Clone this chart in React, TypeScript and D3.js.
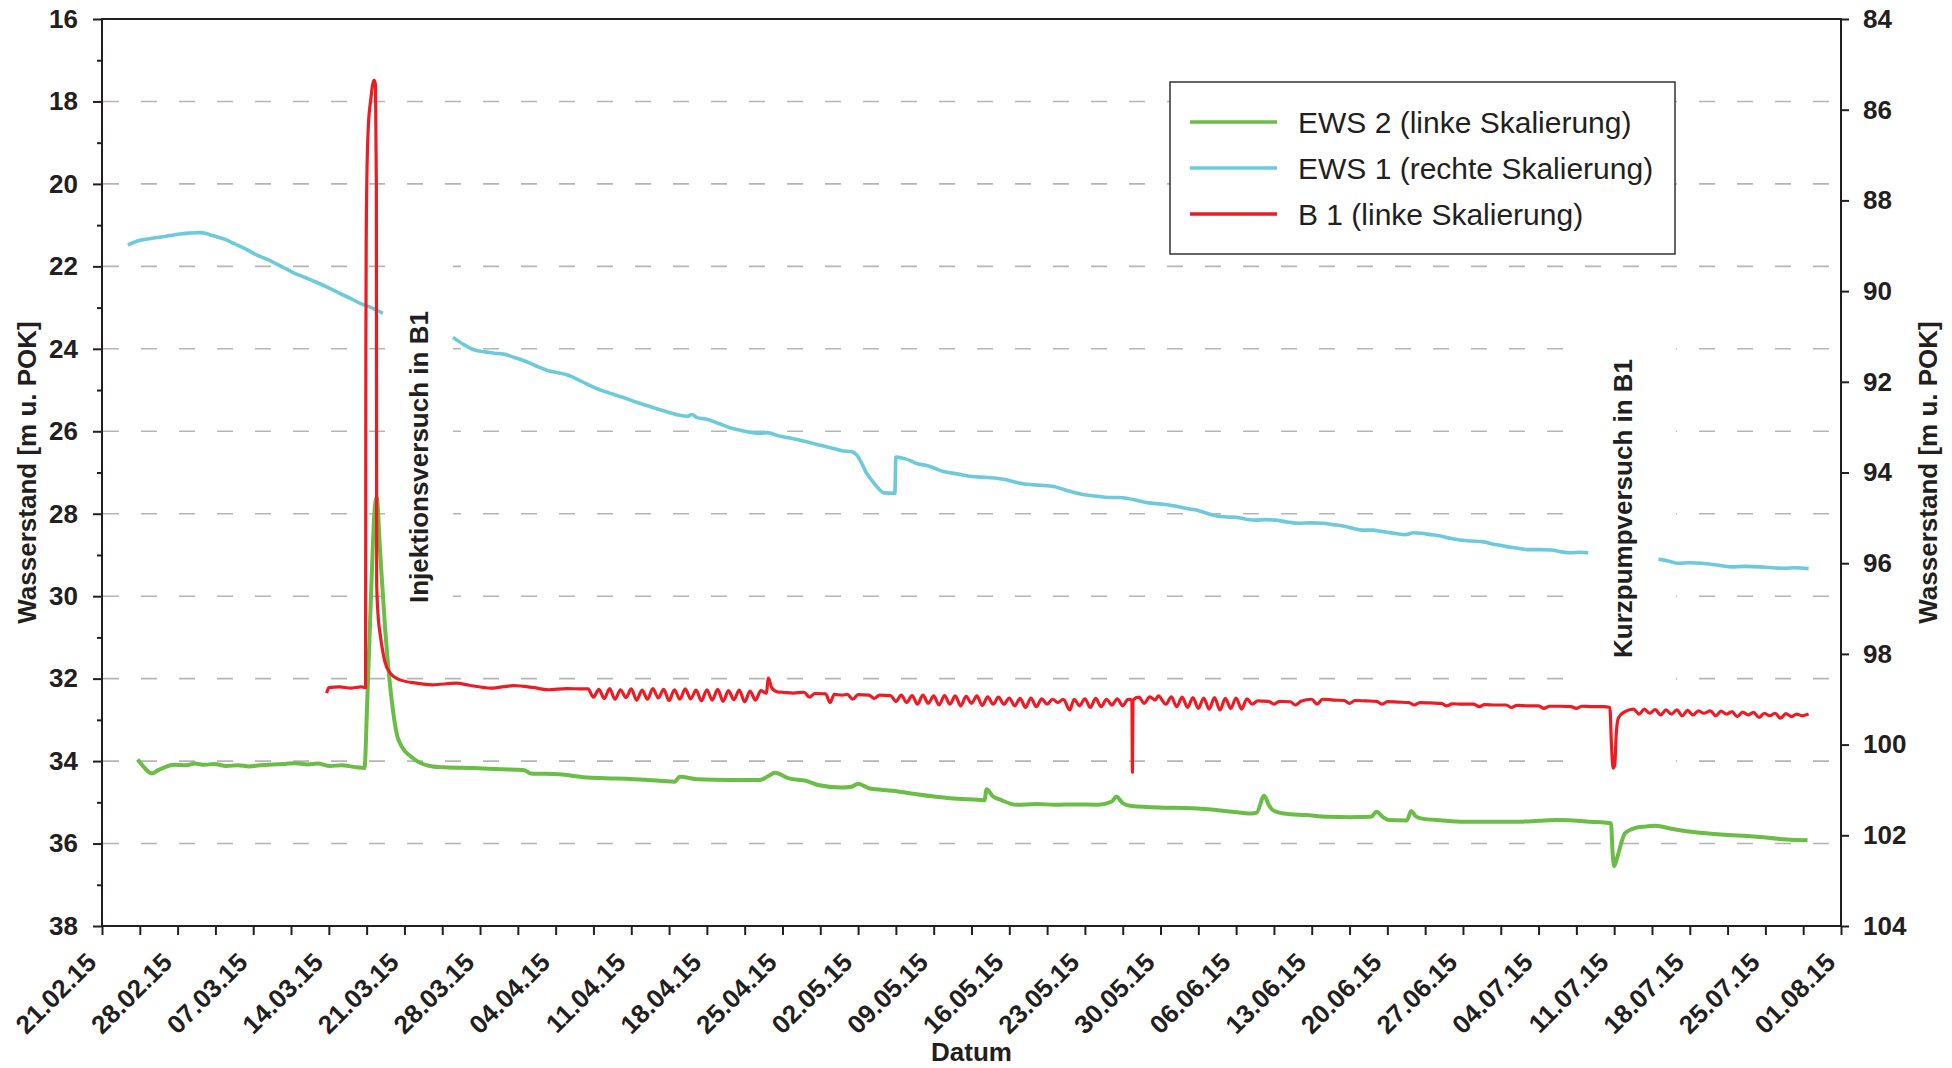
import React, { useRef, useEffect } from 'react';
import * as d3 from 'd3';

// [Tage seit 21.02.15, Wasserstand]
type Pt = [number, number];

const xTickLabels = [
  '21.02.15', '28.02.15', '07.03.15', '14.03.15', '21.03.15', '28.03.15', '04.04.15', '11.04.15',
  '18.04.15', '25.04.15', '02.05.15', '09.05.15', '16.05.15', '23.05.15', '30.05.15', '06.06.15',
  '13.06.15', '20.06.15', '27.06.15', '04.07.15', '11.07.15', '18.07.15', '25.07.15', '01.08.15',
];
const leftTicks = [16, 18, 20, 22, 24, 26, 28, 30, 32, 34, 36, 38];
const leftMinorTicks = [17, 19, 21, 23, 25, 27, 29, 31, 33, 35, 37];
const rightTicks = [84, 86, 88, 90, 92, 94, 96, 98, 100, 102, 104];

const seriesNames = ['EWS 2 (linke Skalierung)', 'EWS 1 (rechte Skalierung)', 'B 1 (linke Skalierung)'];
const seriesColors = ['#6abd45', '#6dcadb', '#ed1c24'];

const annotationTexts = ['Injektionsversuch in B1', 'Kurzpumpversuch in B1'];

// EWS 2 (linke Skala)
const ews2Data: Pt[] = [
  [3.3, 33.96], [3.8, 34.12], [4.6, 34.30], [5.2, 34.22], [5.8, 34.15], [6.7, 34.09], [7.8, 34.10],
  [8.6, 34.06], [9.5, 34.09], [10.4, 34.07], [11.5, 34.12], [12.6, 34.10], [13.6, 34.13], [14.6, 34.10],
  [15.8, 34.08], [16.9, 34.07], [17.9, 34.05], [19.0, 34.08], [20.0, 34.06], [21.1, 34.12], [22.2, 34.10],
  [23.3, 34.14], [24.3, 34.17], [24.56, 32.52], [25.06, 28.88], [25.2, 28.07], [25.43, 27.6], [25.74, 28.88],
  [26.2, 30.74], [26.82, 32.52], [27.45, 33.49], [28.8, 33.93], [30.6, 34.13], [31.7, 34.15], [34.4, 34.17],
  [37.0, 34.20], [39.1, 34.22], [39.7, 34.30], [42.3, 34.32], [45.0, 34.40], [47.6, 34.42], [50.3, 34.45],
  [53.0, 34.50], [53.5, 34.38], [55.1, 34.44], [58.3, 34.46], [60.9, 34.46], [61.7, 34.36], [62.3, 34.28],
  [63.6, 34.42], [65.2, 34.48], [66.3, 34.58], [68.4, 34.64], [69.4, 34.62], [70.0, 34.55], [71.0, 34.66],
  [73.2, 34.72], [75.3, 34.80], [78.5, 34.90], [81.1, 34.94], [81.7, 34.95], [81.9, 34.68], [82.5, 34.86],
  [83.1, 34.93], [84.7, 35.06], [86.5, 35.04], [88.2, 35.06], [90.2, 35.05], [92.2, 35.06], [93.5, 34.98],
  [93.9, 34.86], [94.5, 35.02], [95.3, 35.09], [98.3, 35.13], [100.3, 35.14], [102.4, 35.17], [104.4, 35.22],
  [106.4, 35.27], [106.9, 35.25], [107.6, 34.84], [108.0, 35.05], [108.4, 35.19], [109.4, 35.27], [111.5, 35.31],
  [113.5, 35.35], [115.5, 35.36], [117.5, 35.35], [118.0, 35.23], [118.6, 35.36], [119.1, 35.43], [120.8, 35.44],
  [121.2, 35.21], [121.6, 35.33], [122.1, 35.39], [124.1, 35.44], [126.1, 35.47], [128.6, 35.47], [131.2, 35.47],
  [133.0, 35.45], [134.7, 35.43], [137.8, 35.47], [139.7, 35.51], [139.85, 36.2], [140.0, 36.55], [140.3, 36.32],
  [141.0, 35.75], [142.0, 35.62], [142.8, 35.59], [143.8, 35.57], [145.3, 35.64], [146.9, 35.71], [149.9, 35.78],
  [152.9, 35.83], [156.0, 35.90], [157.9, 35.92],
];

// EWS 1 (rechte Skala), drei Abschnitte mit Lücken
const ews1Part1: Pt[] = [
  [2.4, 88.98], [3.5, 88.88], [4.5, 88.84], [5.7, 88.80], [6.5, 88.77], [7.2, 88.74], [8.2, 88.72],
  [9.1, 88.71], [9.9, 88.75], [10.6, 88.80], [11.4, 88.86], [12.2, 88.95], [13.2, 89.06], [14.3, 89.20],
  [15.1, 89.28], [15.9, 89.37], [16.8, 89.48], [17.7, 89.59], [18.8, 89.70], [19.9, 89.81], [21.0, 89.93],
  [22.0, 90.05], [23.0, 90.16], [23.9, 90.27], [25.0, 90.37], [26.0, 90.49],
];
const ews1Part2: Pt[] = [
  [32.5, 91.02], [33.5, 91.18], [34.5, 91.30], [35.5, 91.34], [36.3, 91.37], [37.2, 91.39], [38.0, 91.45],
  [38.9, 91.52], [40.1, 91.64], [41.4, 91.76], [42.2, 91.80], [43.1, 91.85], [44.4, 91.99], [45.7, 92.14],
  [47.0, 92.25], [48.2, 92.34], [49.5, 92.45], [50.8, 92.55], [52.0, 92.64], [53.3, 92.73], [54.2, 92.76],
  [54.6, 92.72], [55.1, 92.79], [55.9, 92.82], [57.1, 92.92], [58.4, 93.03], [59.3, 93.08], [60.1, 93.12],
  [61.0, 93.14], [61.6, 93.12], [62.6, 93.19], [63.9, 93.25], [65.2, 93.32], [66.5, 93.40], [67.7, 93.47],
  [68.5, 93.52], [69.4, 93.54], [69.9, 93.62], [70.3, 93.78], [70.7, 93.98], [71.2, 94.15], [71.8, 94.33],
  [72.4, 94.45], [73.4, 94.46], [73.5, 93.66], [74.4, 93.70], [75.4, 93.80], [76.6, 93.86], [77.9, 93.98],
  [79.2, 94.03], [80.5, 94.09], [82.0, 94.11], [83.5, 94.15], [84.5, 94.21], [85.6, 94.26], [86.9, 94.28],
  [88.1, 94.31], [89.4, 94.40], [90.7, 94.48], [92.0, 94.52], [93.2, 94.55], [94.2, 94.55], [96.9, 94.67],
  [98.2, 94.70], [99.6, 94.75], [100.5, 94.80], [101.4, 94.83], [102.3, 94.90], [103.2, 94.96], [104.1, 94.98],
  [105.0, 94.99], [105.9, 95.03], [106.8, 95.05], [107.7, 95.04], [108.6, 95.05], [109.7, 95.09], [110.8, 95.12],
  [112.0, 95.11], [113.1, 95.12], [114.0, 95.15], [114.9, 95.18], [115.8, 95.23], [116.7, 95.27], [117.6, 95.27],
  [118.5, 95.30], [119.6, 95.34], [120.7, 95.37], [121.4, 95.33], [122.1, 95.34], [123.0, 95.37], [123.9, 95.40],
  [124.8, 95.45], [125.7, 95.49], [126.8, 95.51], [127.9, 95.53], [129.0, 95.59], [130.2, 95.64], [131.1, 95.67],
  [132.0, 95.70], [133.1, 95.70], [134.2, 95.71], [135.1, 95.75], [136.0, 95.77], [136.8, 95.76], [137.6, 95.77],
];
const ews1Part3: Pt[] = [
  [144.1, 95.91], [145.0, 95.95], [145.9, 96.00], [147.0, 95.99], [148.1, 96.00], [149.5, 96.04], [150.8, 96.08],
  [152.1, 96.07], [153.5, 96.08], [154.6, 96.10], [155.8, 96.11], [156.7, 96.10], [158.0, 96.12],
];

// B 1 (linke Skala)
const b1Data: Pt[] = [
  [20.8, 32.35], [21.0, 32.22], [22.0, 32.20], [23.0, 32.23], [24.0, 32.20], [24.4, 32.22],
  [24.43, 24.0], [24.46, 21.5], [24.52, 19.9], [24.66, 18.6], [24.88, 17.96], [25.05, 17.6], [25.19, 17.48],
  [25.32, 17.6], [25.40, 20.0], [25.43, 29.7], [25.6, 30.6], [25.74, 30.9], [26.0, 31.35], [26.2, 31.6],
  [26.67, 31.86], [27.0, 31.95], [27.6, 32.03], [29.1, 32.11], [30.6, 32.15], [32.8, 32.11], [34.0, 32.16],
  [36.0, 32.23], [38.1, 32.17], [40.0, 32.22], [41.3, 32.27], [43.0, 32.24], [44.5, 32.25],
  [45.0, 32.25], [45.5, 32.45], [46.0, 32.26], [46.5, 32.48], [47.0, 32.24], [47.5, 32.50], [48.0, 32.27],
  [48.5, 32.46], [49.0, 32.25], [49.5, 32.52], [50.0, 32.28], [50.5, 32.50], [51.0, 32.24], [51.5, 32.47],
  [52.0, 32.26], [52.5, 32.53], [53.0, 32.27], [53.5, 32.50], [54.0, 32.25], [54.5, 32.49], [55.0, 32.28],
  [55.5, 32.54], [56.0, 32.27], [56.5, 32.52], [57.0, 32.26], [57.5, 32.55], [58.0, 32.29], [58.5, 32.51],
  [59.0, 32.28], [59.5, 32.56], [60.0, 32.30], [60.5, 32.52], [61.0, 32.29], [61.5, 32.35], [61.7, 31.99],
  [62.0, 32.22], [62.5, 32.32], [63.0, 32.33], [64.0, 32.35], [65.0, 32.33], [65.5, 32.45], [66.0, 32.36],
  [67.0, 32.37], [67.4, 32.58], [67.8, 32.38], [68.5, 32.40], [69.0, 32.38], [69.5, 32.50], [70.0, 32.39],
  [71.0, 32.40], [71.5, 32.48], [72.0, 32.40], [73.0, 32.41], [73.5, 32.55], [74.0, 32.40], [74.5, 32.58],
  [75.0, 32.41], [75.5, 32.62], [76.0, 32.40], [76.5, 32.60], [77.0, 32.42], [77.5, 32.64], [78.0, 32.41],
  [78.5, 32.62], [79.0, 32.42], [79.5, 32.66], [80.0, 32.43], [80.5, 32.60], [81.0, 32.42], [81.5, 32.65],
  [82.0, 32.44], [82.5, 32.62], [83.0, 32.45], [83.5, 32.62], [84.0, 32.47], [84.5, 32.66], [85.0, 32.48],
  [85.5, 32.70], [86.0, 32.47], [86.5, 32.68], [87.0, 32.49], [87.5, 32.62], [88.0, 32.50], [88.5, 32.58],
  [89.0, 32.50], [89.6, 32.76], [90.0, 32.50], [90.5, 32.66], [91.0, 32.49], [91.5, 32.70], [92.0, 32.48],
  [92.5, 32.68], [93.0, 32.50], [93.5, 32.64], [94.0, 32.49], [94.5, 32.66], [95.0, 32.50], [95.35, 32.52],
  [95.4, 34.27], [95.45, 32.52], [96.0, 32.45], [96.5, 32.60], [97.0, 32.44], [97.5, 32.52], [97.8, 32.42],
  [98.5, 32.62], [99.0, 32.44], [99.5, 32.68], [100.0, 32.45], [100.5, 32.70], [101.0, 32.46], [101.5, 32.72],
  [102.0, 32.47], [102.5, 32.74], [103.0, 32.46], [103.5, 32.76], [104.0, 32.48], [104.5, 32.72], [105.0, 32.47],
  [105.5, 32.74], [106.0, 32.49], [106.5, 32.62], [107.0, 32.54], [108.0, 32.55], [108.5, 32.62], [109.0, 32.55],
  [110.0, 32.56], [110.5, 32.64], [111.0, 32.55], [112.0, 32.50], [112.5, 32.62], [113.0, 32.50], [114.0, 32.52],
  [115.0, 32.53], [115.5, 32.60], [116.0, 32.53], [117.0, 32.54], [118.0, 32.55], [118.5, 32.62], [119.0, 32.56],
  [120.0, 32.57], [121.0, 32.58], [121.5, 32.64], [122.0, 32.58], [123.0, 32.59], [124.0, 32.60], [124.5, 32.66],
  [125.0, 32.61], [126.0, 32.62], [127.0, 32.62], [127.5, 32.68], [128.0, 32.63], [129.0, 32.64], [130.0, 32.64],
  [130.5, 32.70], [131.0, 32.65], [132.0, 32.66], [133.0, 32.66], [133.5, 32.72], [134.0, 32.67], [135.0, 32.67],
  [136.0, 32.68], [136.5, 32.72], [137.0, 32.67], [138.0, 32.68], [139.0, 32.68], [139.6, 32.70], [139.75, 33.6],
  [139.9, 34.17], [140.05, 34.1], [140.2, 33.3], [140.4, 32.95], [141.0, 32.80], [141.8, 32.74], [142.3, 32.86],
  [142.8, 32.74], [143.3, 32.84], [143.8, 32.75], [144.3, 32.88], [144.8, 32.76], [145.3, 32.86], [145.8, 32.76],
  [146.3, 32.90], [146.8, 32.77], [147.3, 32.88], [147.8, 32.78], [148.3, 32.84], [148.9, 32.78], [149.4, 32.90],
  [149.9, 32.79], [150.4, 32.86], [150.9, 32.80], [151.4, 32.92], [151.9, 32.81], [152.4, 32.88], [152.9, 32.82],
  [153.4, 32.94], [153.9, 32.84], [154.4, 32.90], [154.9, 32.84], [155.4, 32.96], [155.9, 32.85], [156.4, 32.92],
  [156.9, 32.86], [157.4, 32.90], [158.0, 32.86],
];

const FONT = "'Liberation Sans', Arial, Helvetica, sans-serif";
const W = 1952;
const H = 1068;
const plot = { left: 102, right: 1841, top: 19, bottom: 926 };
const INK = '#231f20';

const App: React.FC = () => {
  const svgRef = useRef<SVGSVGElement | null>(null);

  useEffect(() => {
    if (!svgRef.current) return;
    const svg = d3.select(svgRef.current);
    svg.selectAll('*').remove();

    const parse = d3.utcParse('%d.%m.%y');
    const tickDates = xTickLabels.map(s => parse(s) as Date);
    const t0 = tickDates[0].getTime();
    const toDate = (d: number) => new Date(t0 + d * 864e5);

    const x = d3.scaleUtc()
      .domain([tickDates[0], tickDates[tickDates.length - 1]])
      .range([plot.left, plot.right]);
    const yL = d3.scaleLinear().domain([16, 38]).range([plot.top, plot.bottom]);
    const yR = d3.scaleLinear().domain([84, 104]).range([plot.top, plot.bottom]);

    svg.append('rect').attr('width', W).attr('height', H).attr('fill', '#fff');

    // Gitterlinien
    svg.append('g')
      .selectAll('line')
      .data(leftTicks.slice(1, -1))
      .join('line')
      .attr('x1', plot.left + 1)
      .attr('x2', plot.right)
      .attr('y1', d => yL(d))
      .attr('y2', d => yL(d))
      .attr('stroke', '#b5b5b5')
      .attr('stroke-width', 1.6)
      .attr('stroke-dasharray', '16,22');

    // Textfelder der Annotationen verdecken das Gitter
    svg.append('rect').attr('x', 390).attr('y', 250).attr('width', 63).attr('height', 390).attr('fill', '#fff');
    svg.append('rect').attr('x', 1580).attr('y', 335).attr('width', 96).attr('height', 440).attr('fill', '#fff');

    // Ganglinien
    const lineL = d3.line<Pt>().curve(d3.curveMonotoneX).x(d => x(toDate(d[0]))).y(d => yL(d[1]));
    const lineR = d3.line<Pt>().curve(d3.curveMonotoneX).x(d => x(toDate(d[0]))).y(d => yR(d[1]));

    svg.append('path')
      .datum(ews2Data)
      .attr('d', lineL)
      .attr('fill', 'none')
      .attr('stroke', seriesColors[0])
      .attr('stroke-width', 4)
      .attr('stroke-linejoin', 'round');

    [ews1Part1, ews1Part2, ews1Part3].forEach(part => {
      svg.append('path')
        .datum(part)
        .attr('d', lineR)
        .attr('fill', 'none')
        .attr('stroke', seriesColors[1])
        .attr('stroke-width', 3.6)
        .attr('stroke-linejoin', 'round');
    });

    svg.append('path')
      .datum(b1Data)
      .attr('d', lineL)
      .attr('fill', 'none')
      .attr('stroke', seriesColors[2])
      .attr('stroke-width', 3.2)
      .attr('stroke-linejoin', 'round');

    // Achsen
    const styleAxis = (g: d3.Selection<SVGGElement, unknown, null, undefined>) => {
      g.select('.domain').remove();
      g.attr('color', INK)
        .attr('font-family', FONT)
        .attr('font-size', 26)
        .attr('font-weight', 'bold');
      g.selectAll('line').attr('stroke-width', 2);
    };

    svg.append('g')
      .attr('transform', `translate(${plot.left},0)`)
      .call(d3.axisLeft(yL).tickValues(leftTicks).tickSize(9).tickPadding(15).tickFormat(d3.format('d')))
      .call(styleAxis);

    svg.append('g')
      .attr('transform', `translate(${plot.left},0)`)
      .call(d3.axisLeft(yL).tickValues(leftMinorTicks).tickSize(5).tickFormat(() => ''))
      .call(styleAxis);

    svg.append('g')
      .attr('transform', `translate(${plot.right},0)`)
      .call(d3.axisRight(yR).tickValues(rightTicks).tickSize(8).tickPadding(14).tickFormat(d3.format('d')))
      .call(styleAxis);

    const halfWeeks = d3.range(0, tickDates.length * 2 - 1).map(i => toDate(i * 3.5));
    svg.append('g')
      .attr('transform', `translate(0,${plot.bottom})`)
      .call(d3.axisBottom(x).tickValues(halfWeeks).tickSize(9).tickFormat(() => ''))
      .call(styleAxis);

    svg.append('g')
      .attr('font-family', FONT)
      .attr('font-size', 26)
      .attr('font-weight', 'bold')
      .attr('fill', INK)
      .selectAll('text')
      .data(tickDates)
      .join('text')
      .attr('transform', d => `translate(${x(d) - 4},${plot.bottom + 38}) rotate(-45)`)
      .attr('text-anchor', 'end')
      .text((_, i) => xTickLabels[i]);

    // Rahmen
    svg.append('rect')
      .attr('x', plot.left)
      .attr('y', plot.top)
      .attr('width', plot.right - plot.left)
      .attr('height', plot.bottom - plot.top)
      .attr('fill', 'none')
      .attr('stroke', INK)
      .attr('stroke-width', 2);

    // Achsentitel
    const titles = svg.append('g')
      .attr('font-family', FONT)
      .attr('font-size', 26)
      .attr('font-weight', 'bold')
      .attr('fill', INK)
      .attr('text-anchor', 'middle');
    const yMid = (plot.top + plot.bottom) / 2;
    titles.append('text').attr('transform', `translate(36,${yMid}) rotate(-90)`).text('Wasserstand [m u. POK]');
    titles.append('text').attr('transform', `translate(1937,${yMid}) rotate(-90)`).text('Wasserstand [m u. POK]');
    titles.append('text').attr('x', (plot.left + plot.right) / 2).attr('y', 1061).text('Datum');

    // Annotationen
    const notes = svg.append('g')
      .attr('font-family', FONT)
      .attr('font-size', 26)
      .attr('font-weight', 'bold')
      .attr('fill', INK);
    notes.append('text').attr('transform', 'translate(428,603) rotate(-90)').text(annotationTexts[0]);
    notes.append('text').attr('transform', 'translate(1632,658) rotate(-90)').text(annotationTexts[1]);

    // Legende
    const legend = svg.append('g').attr('transform', 'translate(1170,82)');
    legend.append('rect')
      .attr('width', 505)
      .attr('height', 172)
      .attr('fill', '#fff')
      .attr('stroke', '#333')
      .attr('stroke-width', 1.5);
    const rows = legend.selectAll('g.row')
      .data(seriesNames)
      .join('g')
      .attr('class', 'row')
      .attr('transform', (_, i) => `translate(0,${40 + i * 46})`);
    rows.append('line')
      .attr('x1', 20)
      .attr('x2', 107)
      .attr('stroke', (_, i) => seriesColors[i])
      .attr('stroke-width', 3.6);
    rows.append('text')
      .attr('x', 128)
      .attr('dy', '0.35em')
      .attr('font-family', FONT)
      .attr('font-size', 30)
      .attr('fill', INK)
      .text(d => d);
  }, []);

  return (
    <svg
      ref={svgRef}
      width={W}
      height={H}
      style={{ position: 'absolute', left: 0, top: 0, display: 'block' }}
    />
  );
};

export default App;
